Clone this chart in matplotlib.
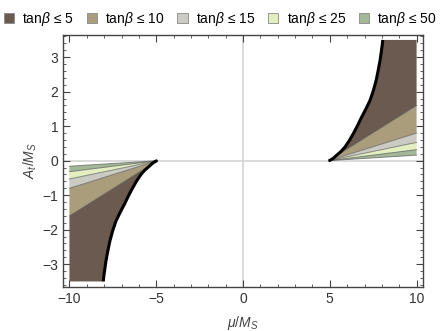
import matplotlib
matplotlib.use("Agg")
import matplotlib.pyplot as plt
from matplotlib.patches import Patch
from matplotlib.ticker import MultipleLocator

plt.rcParams['font.family'] = ['Liberation Sans', 'DejaVu Sans']
plt.rcParams['mathtext.fontset'] = 'custom'
plt.rcParams['mathtext.rm'] = 'Liberation Sans'
plt.rcParams['mathtext.it'] = 'Liberation Sans:italic'

# boundary curve (right branch); left branch is the mirror
mu_edge = [4.93, 5.01, 5.20, 5.40, 5.65, 5.88, 6.12, 6.36, 6.60, 6.84,
           7.08, 7.32, 7.52, 7.68, 7.80, 7.90, 7.97, 8.02, 8.05]
at_edge = [0.00, 0.01, 0.07, 0.16, 0.27, 0.40, 0.58, 0.79, 1.02, 1.27,
           1.50, 1.75, 2.05, 2.35, 2.65, 2.92, 3.17, 3.35, 3.50]

# lower edge of each tan(beta) band at mu/M_S = 10
tan_beta = [5, 10, 15, 25, 50]
at_right = [1.60, 0.80, 0.53, 0.32, 0.16]
band_colors = ['#6b5a50', '#a99d7b', '#cbcbc3', '#e3eec1', '#a4b898']

mu_max = 10
at_max = 3.5

fig = plt.figure(figsize=(4.45, 3.31), dpi=100)
ax = fig.add_axes([0.1416, 0.133, 0.809, 0.761])

ax.axhline(0, color='#d4d4d4', lw=1.2, zorder=0)
ax.axvline(0, color='#d4d4d4', lw=1.2, zorder=0)

tip_mu = mu_edge[0]
tip_at = at_edge[0]

for sign in [1, -1]:
    # tan(beta) <= 5 : between the curve and the first line
    xs = [sign * m for m in mu_edge] + [sign * mu_max, sign * mu_max]
    ys = [sign * a for a in at_edge] + [sign * at_max, sign * at_right[0]]
    ax.fill(xs, ys, color=band_colors[0], lw=0, zorder=2)
    for k in range(1, len(tan_beta)):
        ax.fill([sign * tip_mu, sign * mu_max, sign * mu_max],
                [sign * tip_at, sign * at_right[k - 1], sign * at_right[k]],
                color=band_colors[k], lw=0, zorder=2)
    for k in range(len(tan_beta)):
        ax.plot([sign * tip_mu, sign * mu_max], [sign * tip_at, sign * at_right[k]],
                color='#4a4a4a', lw=0.7, alpha=0.6, zorder=3)
    ax.plot([sign * m for m in mu_edge], [sign * a for a in at_edge],
            color='black', lw=2.2, zorder=4, solid_capstyle='butt',
            solid_joinstyle='round')

ax.set_xlim(-10.37, 10.37)
ax.set_ylim(-3.66, 3.64)
ax.xaxis.set_major_locator(MultipleLocator(5))
ax.xaxis.set_minor_locator(MultipleLocator(1))
ax.yaxis.set_major_locator(MultipleLocator(1))
ax.yaxis.set_minor_locator(MultipleLocator(0.2))
ax.tick_params(which='both', direction='in', top=True, right=True,
               color='#444444', labelcolor='#333333', labelsize=10)
ax.tick_params(which='major', length=5, width=0.8)
ax.tick_params(which='minor', length=2.5, width=0.6)
for s in ax.spines.values():
    s.set_color('#444444')
    s.set_linewidth(1.0)

ax.set_xlabel(r'$\mu/M_S$', fontsize=10, color='#444444', labelpad=6)
ax.set_ylabel(r'$A_t/M_S$', fontsize=10, color='#444444', labelpad=2)

handles = [Patch(facecolor=c, edgecolor='#888888', lw=0.6) for c in band_colors]
labels = [r'tan$\beta$ ≤ ' + str(t) for t in tan_beta]
fig.legend(handles, labels, loc='upper center', bbox_to_anchor=(0.495, 1.0), ncol=5,
           frameon=False, fontsize=10, handlelength=0.75, handleheight=0.75,
           handletextpad=0.6, columnspacing=0.9, borderaxespad=0.3)

fig.savefig('out.png', dpi=100)
